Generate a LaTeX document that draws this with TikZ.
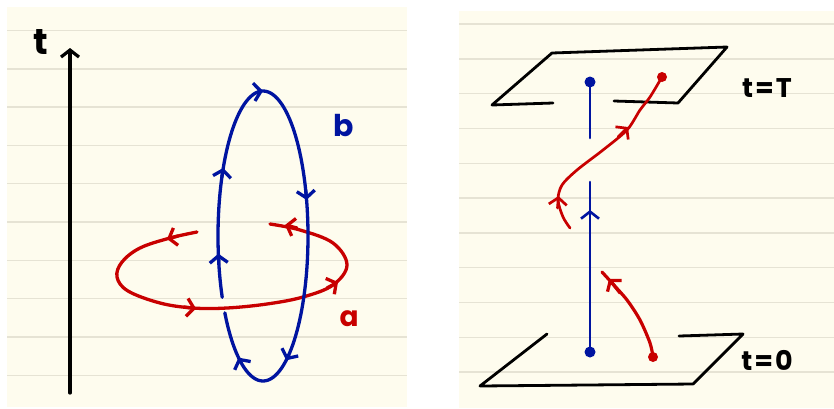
\documentclass[tikz,border=0pt]{standalone}
\usepackage{fontspec}
\setmainfont{Poppins}
\usetikzlibrary{arrows.meta}
\definecolor{cream}{RGB}{254,252,238}
\definecolor{rulecol}{RGB}{230,227,212}
\definecolor{myred}{RGB}{200,0,0}
\definecolor{myblue}{RGB}{0,20,160}
\begin{document}
\begin{tikzpicture}[x=1pt,y=-1pt, line cap=round, line join=round,
 rulestyle/.style={rulecol, line width=1.4pt, line cap=butt},
 redline/.style={myred, line width=3.3pt},
 blueline/.style={myblue, line width=3.3pt},
 blackline/.style={black, line width=2.8pt},
 barb/.style={-{Straight Barb[length=7pt,width=18pt]}},
 lab/.style={inner sep=0pt, font=\bfseries}
]
\useasboundingbox (0,0) rectangle (834,408);
\fill[white] (0,0) rectangle (834,408);
\fill[cream] (7,7) rectangle (407,407);
\fill[cream] (459,11) rectangle (834,408);
\foreach \k in {0,...,9} \draw[rulestyle] (7,{30.5+38.3*\k}) -- (407,{30.5+38.3*\k});
\foreach \k in {0,...,10} \draw[rulestyle] (459,{24+34.8*\k}) -- (834,{24+34.8*\k});
% left panel: time axis
\coordinate (tb) at (70,393);
\coordinate (tt) at (70,48);
\draw[black, line width=3.2pt, -{Straight Barb[length=7pt,width=18pt]}] (tb) -- (tt);
\node[lab, font=\fontsize{36}{38}\selectfont\bfseries] (tlabel) at (41,42) {t};
% red loop a
\draw[redline] plot[smooth, tension=0.6] coordinates {(197,232) (170,238) (140,248) (122,262) (117,277) (128,291) (160,303) (193,308) (227,308) (267,304) (303,297) (333,285) (347,265) (333,243) (300,230) (270,224)};
\draw[redline, barb] (178,236) -- (167,239);
\draw[redline, barb] (184,307) -- (196,308.5);
\draw[redline, barb] (327,288) -- (338,282);
\draw[redline, barb] (297,228) -- (285,225);
% blue loop b
\draw[blueline] plot[domain=155:508, samples=150, smooth] ({263+45*cos(\x)},{236+145*sin(\x)});
\foreach \t in {173,208,270,345.6,59,123}
  \draw[blueline, barb] ({263+45*cos(\t-4)},{236+145*sin(\t-4)}) -- ({263+45*cos(\t)},{236+145*sin(\t)});
\node[lab, myblue, font=\fontsize{30}{32}\selectfont\bfseries] (blab) at (344,126) {b};
\node[lab, myred, font=\fontsize{28}{30}\selectfont\bfseries] (alab) at (349,319) {a};
% right panel: planes
\draw[blackline] (553,103) -- (492,105) -- (552,53) -- (727,47) -- (678,103) -- (614,101);
\draw[blackline] (547,334) -- (480,386) -- (693,384) -- (743,334) -- (679,336);
% blue worldline
\draw[blueline, line width=2.6pt] (590,82) -- (590,138);
\draw[blueline, line width=2.6pt] (590,182) -- (590,352);
\draw[blueline, line width=2.6pt, barb] (590,222) -- (590,210);
\fill[myblue] (590,82) circle[radius=5.5pt];
\fill[myblue] (590,352) circle[radius=5.5pt];
% red worldlines
\draw[redline, line width=2.7pt] plot[smooth] coordinates {(570,228) (563,217) (558,200) (562,185) (577,170) (603,150) (627,130) (640,110) (650,97) (662,77)};
\draw[redline, line width=2.7pt, barb] (557.5,208) -- (558.5,196);
\draw[redline, line width=2.7pt, barb] (618,137) -- (628,127);
\fill[myred] (662,77) circle[radius=5pt];
\draw[redline, line width=3.2pt] plot[smooth] coordinates {(653,357) (650,343) (640,320) (627,300) (612,283) (602,272)};
\draw[redline, line width=3.2pt, barb] (620,293) -- (609,279);
\fill[myred] (653,357) circle[radius=5pt];
\node[lab, font=\fontsize{27}{29}\selectfont\bfseries] (tT) at (767,88) {t\kern2pt=\kern2pt T};
\node[lab, font=\fontsize{27}{29}\selectfont\bfseries] (t0) at (767,360) {t\kern2pt=\kern2pt 0};
\end{tikzpicture}
\end{document}
